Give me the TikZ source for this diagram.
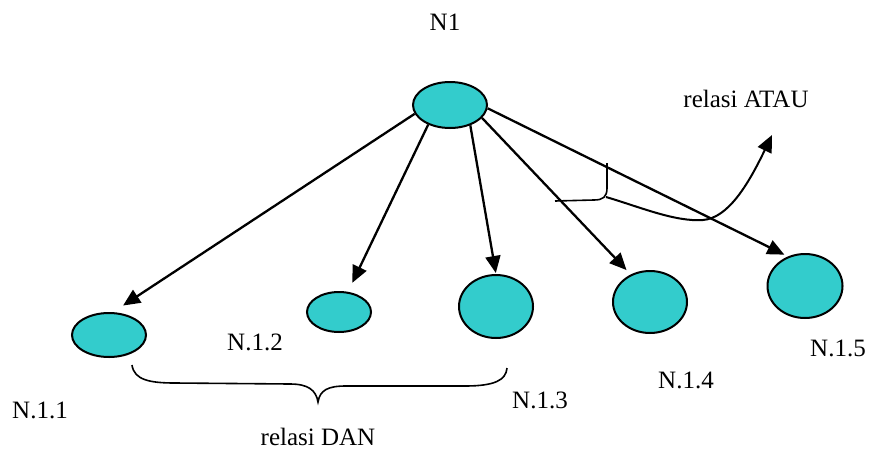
\documentclass[tikz,border=0pt]{standalone}
\usepackage{fontspec}
\setmainfont{Liberation Serif}
\usetikzlibrary{arrows.meta,shapes.geometric}
\definecolor{tealfill}{RGB}{51,204,204}
\begin{document}
\begin{tikzpicture}[x=1pt,y=-1pt,
  blob/.style={ellipse,draw=black,line width=2pt,fill=tealfill,inner sep=0pt},
  lbl/.style={anchor=base,inner sep=0pt,font=\fontsize{25}{30}\selectfont},
  arr/.style={line width=2.3pt,-{Triangle[length=17pt,width=15pt]}},
  markline/.style={line width=1.6pt}]
\useasboundingbox (0,0) rectangle (869,450);
% nodes
\node[blob,minimum width=74pt,minimum height=46pt] (N1) at (450,105) {};
\node[blob,minimum width=74pt,minimum height=44pt] (N11) at (109,335) {};
\node[blob,minimum width=64pt,minimum height=40pt] (N12) at (339,312) {};
\node[blob,minimum width=74pt,minimum height=63pt] (N13) at (496,306.5) {};
\node[blob,minimum width=74pt,minimum height=62pt] (N14) at (650,302) {};
\node[blob,minimum width=75pt,minimum height=64pt] (N15) at (805,286) {};
% labels
\node[lbl] (tN1) at (445,30) {N1};
\node[lbl] (tATAU) at (746,107) {relasi ATAU};
\node[lbl] (tN11) at (40,418) {N.1.1};
\node[lbl] (tN12) at (255,350) {N.1.2};
\node[lbl] (tN13) at (540,408) {N.1.3};
\node[lbl] (tN14) at (686,388) {N.1.4};
\node[lbl] (tN15) at (838,356) {N.1.5};
\node[lbl] (tDAN) at (318,445) {relasi DAN};
% arrows
\draw[arr,shorten >=12pt] (N1.194) -- (N11.80);
\draw[arr,shorten >=10pt] (N1.222) -- (N12.66);
\draw[arr,shorten >=1pt] (N1.315) -- (N13.90);
\draw[arr,shorten >=6pt] (N1.338) -- (N14.125);
\draw[arr,shorten >=4pt] (N1.-5) -- (N15.120);
% relasi ATAU mark
\coordinate (c1) at (607,163);
\coordinate (c2) at (606,197);
\coordinate (c3) at (555,201);
\coordinate (c4) at (772,135);
\draw[markline] (c1) -- (607,188) .. controls (607,197) and (603,200) .. (594,200) -- (c3);
\draw[markline,line width=2pt,-{Triangle[length=17pt,width=15pt]}] (c2) .. controls (640,207) and (675,222) .. (703,220)
  .. controls (728,218) and (748,185) .. (c4);
% relasi DAN brace
\coordinate (b1) at (132,365);
\coordinate (b2) at (318,402);
\coordinate (b3) at (507,368);
\draw[markline] (b1) .. controls (134,380) and (150,383) .. (175,383) -- (290,384)
  .. controls (308,384) and (316,390) .. (b2)
  .. controls (320,390) and (328,386) .. (346,386) -- (465,386)
  .. controls (495,386) and (506,380) .. (b3);
\end{tikzpicture}
\end{document}
